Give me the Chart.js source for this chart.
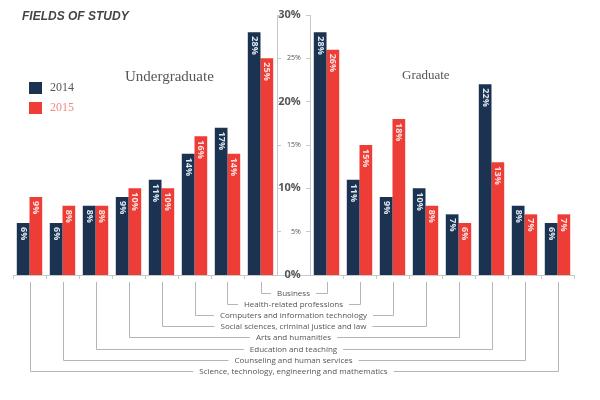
<!DOCTYPE html>
<html lang="en">
<head>
  <meta charset="UTF-8">
  <title>Fields of Study</title>
  <script src="https://cdn.jsdelivr.net/npm/chart.js"></script>
  <style>
    body { margin: 0; background: #fff; }
    #wrap { position: relative; width: 600px; height: 400px; }
    .txt { position: absolute; white-space: nowrap; }
    #title { left: 22px; top: 9px; font: italic bold 12px 'Liberation Sans', sans-serif; color: #444; }
    .panel { font-family: 'Liberation Serif', serif; color: #555; }
    .sw { position: absolute; width: 13px; height: 12px; }
    .leg { font: 12px 'Liberation Serif', serif; }
  </style>
</head>
<body>
  <div id="wrap">
    <canvas id="fieldsChart" width="600" height="400"></canvas>
    <div class="txt" id="title">FIELDS OF STUDY</div>
    <div class="txt panel" style="left:125px; top:68px; font-size:15px;">Undergraduate</div>
    <div class="txt panel" style="left:402px; top:67px; font-size:13px;">Graduate</div>
    <div class="sw" style="left:29px; top:82px; background:#1b3350;"></div>
    <div class="txt leg" style="left:50px; top:80px; color:#555;">2014</div>
    <div class="sw" style="left:29px; top:102px; background:#ee3c36;"></div>
    <div class="txt leg" style="left:50px; top:100px; color:#f08a80;">2015</div>
  </div>

  <script>
    // Campos de estudio (de arriba a abajo en la leyenda central)
    const fields = [
      'Business',
      'Health-related professions',
      'Computers and information technology',
      'Social sciences, criminal justice and law',
      'Arts and humanities',
      'Education and teaching',
      'Counseling and human services',
      'Science, technology, engineering and mathematics'
    ];
    const ug2014 = [28, 17, 14, 11, 9, 8, 6, 6];
    const ug2015 = [25, 14, 16, 10, 10, 8, 8, 9];
    const gr2014 = [28, 11, 9, 10, 7, 22, 8, 6];
    const gr2015 = [26, 15, 18, 8, 6, 13, 7, 7];
    const yTicks = [0, 5, 10, 15, 20, 25, 30];

    const NAVY = '#1b3350';
    const RED = '#ee3c36';

    // izquierda: orden invertido, hueco central, derecha: orden normal
    const labels = [...fields].reverse().concat([''], fields);
    const data2014 = [...ug2014].reverse().concat([null], gr2014);
    const data2015 = [...ug2015].reverse().concat([null], gr2015);

    // etiquetas giradas dentro de las barras
    const barLabels = {
      id: 'barLabels',
      afterDatasetsDraw(chart) {
        const ctx = chart.ctx;
        chart.data.datasets.forEach((ds, di) => {
          chart.getDatasetMeta(di).data.forEach((bar, i) => {
            const v = ds.data[i];
            if (v === null) return;
            ctx.save();
            ctx.translate(bar.x, bar.y + 4);
            ctx.rotate(Math.PI / 2);
            ctx.font = 'bold 9px "Open Sans", sans-serif';
            ctx.fillStyle = di === 0 ? '#dfe8f2' : '#fde3df';
            ctx.textAlign = 'left';
            ctx.textBaseline = 'middle';
            ctx.fillText(v + '%', 0, 0);
            ctx.restore();
          });
        });
      }
    };

    // corchetes que unen cada campo con sus dos pares de barras
    const brackets = {
      id: 'brackets',
      afterDraw(chart) {
        const ctx = chart.ctx;
        const xs = chart.scales.x;
        const top = chart.chartArea.bottom + 7;
        const cx = (xs.getPixelForValue(7) + xs.getPixelForValue(9)) / 2;
        ctx.save();
        ctx.font = '8px "Open Sans", sans-serif';
        ctx.strokeStyle = '#b5b5b5';
        ctx.lineWidth = 1;
        ctx.fillStyle = '#555';
        ctx.textAlign = 'center';
        ctx.textBaseline = 'middle';
        fields.forEach((f, i) => {
          const y = Math.round(top + 11 + i * 11.1) + 0.5;
          const xl = Math.round(xs.getPixelForValue(7 - i)) + 0.5;
          const xr = Math.round(xs.getPixelForValue(9 + i)) + 0.5;
          const w = ctx.measureText(f).width;
          ctx.beginPath();
          ctx.moveTo(xl, top);
          ctx.lineTo(xl, y);
          ctx.lineTo(cx - w / 2 - 6, y);
          ctx.moveTo(cx + w / 2 + 6, y);
          ctx.lineTo(xr, y);
          ctx.lineTo(xr, top);
          ctx.stroke();
          ctx.fillText(f, cx, y);
        });
        ctx.restore();
      }
    };

    const ctx = document.getElementById('fieldsChart').getContext('2d');
    new Chart(ctx, {
      type: 'bar',
      data: {
        labels: labels,
        datasets: [
          { label: '2014', data: data2014, backgroundColor: NAVY },
          { label: '2015', data: data2015, backgroundColor: RED }
        ]
      },
      options: {
        responsive: false,
        animation: false,
        categoryPercentage: 0.77,
        barPercentage: 1.0,
        layout: { padding: { left: 13, right: 26, top: 15, bottom: 121 } },
        plugins: { legend: { display: false }, tooltip: { enabled: false } },
        scales: {
          x: {
            ticks: { display: false },
            border: { color: '#c8c8c8' },
            grid: {
              offset: true,
              drawOnChartArea: false,
              tickLength: 4,
              color: c => (c.index === 8 || c.index === 9) ? 'rgba(0,0,0,0)' : '#c8c8c8'
            }
          },
          y: { display: false, min: 0, max: 30 },
          yl: {
            position: { x: 7.5 }, min: 0, max: 30,
            afterBuildTicks: s => { s.ticks = yTicks.map(v => ({ value: v })); },
            ticks: { display: false },
            border: { color: '#c8c8c8' },
            grid: { drawOnChartArea: false, tickLength: -4, color: '#c8c8c8' }
          },
          yr: {
            position: { x: 8.5 }, min: 0, max: 30,
            afterBuildTicks: s => { s.ticks = yTicks.map(v => ({ value: v })); },
            ticks: { display: false },
            border: { color: '#c8c8c8' },
            grid: { drawOnChartArea: false, tickLength: 4, color: '#c8c8c8' }
          },
          yc: {
            position: { x: 8.22 }, min: 0, max: 30,
            afterBuildTicks: s => { s.ticks = yTicks.map(v => ({ value: v })); },
            border: { display: false },
            grid: { display: false },
            ticks: {
              color: '#555',
              callback: v => v + '%',
              font: c => ({
                family: '"Open Sans", sans-serif',
                size: c.tick && c.tick.value % 10 === 0 ? 11 : 7,
                weight: c.tick && c.tick.value % 10 === 0 ? 'bold' : 'normal'
              })
            }
          }
        }
      },
      plugins: [barLabels, brackets]
    });
  </script>
</body>
</html>
